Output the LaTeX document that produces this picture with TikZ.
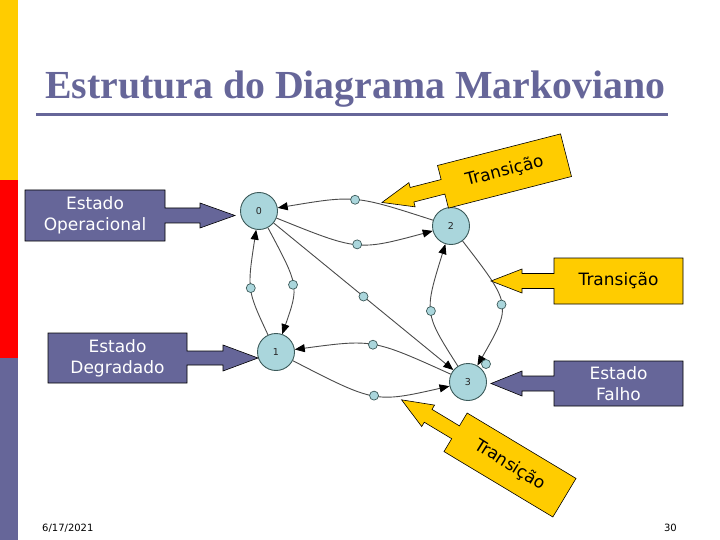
\documentclass[tikz,border=0pt]{standalone}
\usepackage{fontspec}
\setmainfont{Liberation Serif}
\newfontfamily\dejavu{DejaVu Sans}
\usetikzlibrary{arrows.meta}
\definecolor{slate}{RGB}{102,102,153}
\definecolor{gold}{RGB}{255,204,0}
\definecolor{barred}{RGB}{255,0,0}
\definecolor{nodefill}{RGB}{170,214,220}
\definecolor{nodeline}{RGB}{60,90,90}
\definecolor{edgegray}{RGB}{75,75,75}
% left-pointing callout centred at origin: #1 half width, #2 half height
\newcommand{\leftcallout}[2]{(#1,-#2) -- (#1,#2) -- (-#1,#2) -- (-#1,7.5) -- ({-#1-32},7.5) -- ({-#1-32},12.5) -- ({-#1-63},0) -- ({-#1-32},-12.5) -- ({-#1-32},-7.5) -- (-#1,-7.5) -- (-#1,-#2) -- cycle}
\begin{document}
\begin{tikzpicture}[x=1pt,y=-1pt,
  state/.style={circle,draw=nodeline,fill=nodefill,line width=0.9pt,minimum size=37pt,inner sep=0pt,font=\dejavu\fontsize{9.5}{9.5}\selectfont,text=black!85},
  dot/.style={circle,draw=nodeline,fill=nodefill,line width=0.7pt,minimum size=9pt,inner sep=0pt},
  edge/.style={draw=edgegray,line width=0.9pt,-{Triangle[length=10pt,width=8pt,color=black]}},
  cbox/.style={draw=black,line width=0.6pt},
  ctext/.style={font=\dejavu\fontsize{17}{21}\selectfont,align=center,inner sep=0pt}]
\useasboundingbox (0,0) rectangle (720,540);
\fill[white] (0,0) rectangle (720,540);
% left bar
\fill[gold] (0,0) rectangle (18,180);
\fill[barred] (0,180) rectangle (18,358);
\fill[slate] (0,358) rectangle (18,540);
% title
\node[anchor=base west,inner sep=0pt,text=slate] (title) at (45,99)
  {\resizebox{620pt}{!}{\fontsize{40}{40}\selectfont\bfseries Estrutura do Diagrama Markoviano}};
\draw[slate,line width=3pt] (36,115) -- (668,115);
% states
\node[state] (n0) at (259,211) {0};
\node[state] (n1) at (276,352) {1};
\node[state] (n2) at (451,226) {2};
\node[state] (n3) at (468,382) {3};
% transitions
\draw[edge] (n2) .. controls (355,195) .. (n0) node[dot,pos=0.5] (m1) {};
\draw[edge] (n0) .. controls (358,251) .. (n2) node[dot,pos=0.5] (m2) {};
\draw[edge] (n1) .. controls (247,290) .. (n0) node[dot,pos=0.5] (m3) {};
\draw[edge] (n0) .. controls (299,286) .. (n1) node[dot,pos=0.5] (m4) {};
\draw[edge] (n0) -- (n3) node[dot,pos=0.5] (m5) {};
\draw[edge] (n3) .. controls (424,313) .. (n2) node[dot,pos=0.5] (m6) {};
\draw[edge] (n2) .. controls (512,305) .. (n3) node[dot,pos=0.5] (m7) {};
\draw[edge] (n3) .. controls (373,339) .. (n1) node[dot,pos=0.5] (m8) {};
\draw[edge] (n1) .. controls (375,403) .. (n3) node[dot,pos=0.5] (m9) {};
\node[dot] (m10) at (486,364) {};
% callouts: Estado Operacional
\filldraw[cbox,fill=slate] (25,190) -- (165,190) -- (165,208) -- (200,208) -- (200,203) -- (235,215.5) -- (200,228) -- (200,223) -- (165,223) -- (165,241) -- (25,241) -- cycle;
\node[ctext,text=white] (cop) at (95,215.5) {Estado\\Operacional};
% Estado Degradado
\filldraw[cbox,fill=slate] (48,333) -- (187,333) -- (187,351) -- (223,351) -- (223,345) -- (258,358) -- (223,371) -- (223,365) -- (187,365) -- (187,383) -- (48,383) -- cycle;
\node[ctext,text=white] (cdeg) at (117.5,358) {Estado\\Degradado};
% Transicao (right)
\filldraw[cbox,fill=gold] (683,258) -- (683,304) -- (554,304) -- (554,288.5) -- (522,288.5) -- (522,293) -- (491,281) -- (522,269) -- (522,273.5) -- (554,273.5) -- (554,258) -- cycle;
\node[ctext,text=black] (ctr) at (618.5,281) {Transição};
% Estado Falho
\filldraw[cbox,fill=slate] (683,361) -- (683,406) -- (554,406) -- (554,391) -- (522,391) -- (522,396) -- (491,383.5) -- (522,371) -- (522,376) -- (554,376) -- (554,361) -- cycle;
\node[ctext,text=white] (cfal) at (618.5,383.5) {Estado\\Falho};
% Transicao (top, rotated)
\begin{scope}[shift={(504.5,171)},rotate=14.4]
\filldraw[cbox,fill=gold] \leftcallout{63.5}{22};
\end{scope}
\node[ctext,text=black,rotate=14.4] (ctop) at (504.5,171) {Transição};
% Transicao (bottom, rotated)
\begin{scope}[shift={(510,465)},rotate=-31]
\filldraw[cbox,fill=gold] \leftcallout{63.5}{22.5};
\end{scope}
\node[ctext,text=black,rotate=-32] (cbot) at (510,465) {Transição};
% footer
\node[anchor=base west,inner sep=0pt,font=\dejavu\fontsize{10}{10}\selectfont] (date) at (42,531) {6/17/2021};
\node[anchor=base east,inner sep=0pt,font=\dejavu\fontsize{10}{10}\selectfont] (page) at (677,531) {30};
\end{tikzpicture}
\end{document}
